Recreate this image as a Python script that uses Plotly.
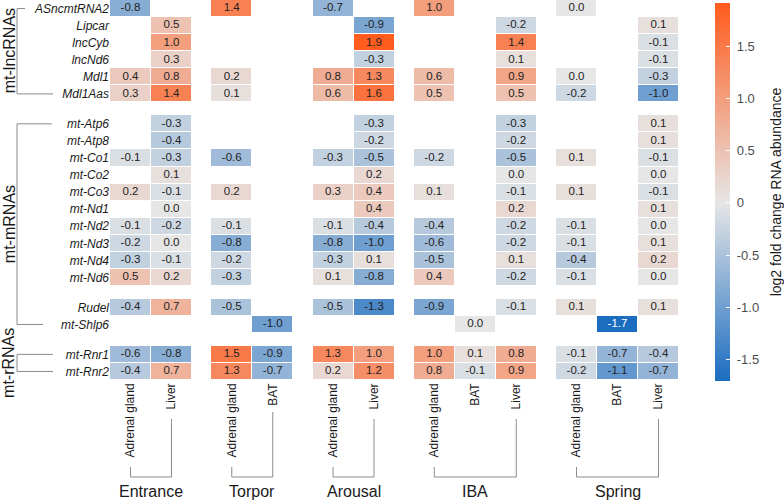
import plotly.graph_objects as go

N = None

# ---------------- data ----------------
genes = ["ASncmtRNA2", "Lipcar", "lncCyb", "lncNd6", "Mdl1", "Mdl1Aas",
         "mt-Atp6", "mt-Atp8", "mt-Co1", "mt-Co2", "mt-Co3", "mt-Nd1", "mt-Nd2",
         "mt-Nd3", "mt-Nd4", "mt-Nd6", "Rudel", "mt-Shlp6", "mt-Rnr1", "mt-Rnr2"]
# block sizes of rows (visual gaps between blocks)
row_blocks = [6, 10, 2, 2]
# bracket groups: (label, first row, last row)
row_groups = [("mt-lncRNAs", 0, 5), ("mt-mRNAs", 6, 17), ("mt-rRNAs", 18, 19)]

stages = ["Entrance", "Torpor", "Arousal", "IBA", "Spring"]
stage_tissues = [["Adrenal gland", "Liver"], ["Adrenal gland", "BAT"],
                 ["Adrenal gland", "Liver"], ["Adrenal gland", "BAT", "Liver"],
                 ["Adrenal gland", "BAT", "Liver"]]

entrance_adrenal = [-0.8, N, N, N, 0.4, 0.3, N, N, -0.1, N, 0.2, N, -0.1, -0.2, -0.3, 0.5, -0.4, N, -0.6, -0.4]
entrance_liver = [N, 0.5, 1.0, 0.3, 0.8, 1.4, -0.3, -0.4, -0.3, 0.1, -0.1, 0.0, -0.2, 0.0, -0.1, 0.2, 0.7, N, -0.8, 0.7]
torpor_adrenal = [1.4, N, N, N, 0.2, 0.1, N, N, -0.6, N, 0.2, N, -0.1, -0.8, -0.2, -0.3, -0.5, N, 1.5, 1.3]
torpor_bat = [N, N, N, N, N, N, N, N, N, N, N, N, N, N, N, N, N, -1.0, -0.9, -0.7]
arousal_adrenal = [-0.7, N, N, N, 0.8, 0.6, N, N, -0.3, N, 0.3, N, -0.1, -0.8, -0.3, 0.1, -0.5, N, 1.3, 0.2]
arousal_liver = [N, -0.9, 1.9, -0.3, 1.3, 1.6, -0.3, -0.2, -0.5, 0.2, 0.4, 0.4, -0.4, -1.0, 0.1, -0.8, -1.3, N, 1.0, 1.2]
iba_adrenal = [1.0, N, N, N, 0.6, 0.5, N, N, -0.2, N, 0.1, N, -0.4, -0.6, -0.5, 0.4, -0.9, N, 1.0, 0.8]
iba_bat = [N, N, N, N, N, N, N, N, N, N, N, N, N, N, N, N, N, 0.0, 0.1, -0.1]
iba_liver = [N, -0.2, 1.4, 0.1, 0.9, 0.5, -0.3, -0.2, -0.5, 0.0, -0.1, 0.2, -0.2, -0.2, 0.1, -0.2, -0.1, N, 0.8, 0.9]
spring_adrenal = [0.0, N, N, N, 0.0, -0.2, N, N, 0.1, N, 0.1, N, -0.1, -0.1, -0.4, -0.1, 0.1, N, -0.1, -0.2]
spring_bat = [N, N, N, N, N, N, N, N, N, N, N, N, N, N, N, N, N, -1.7, -0.7, -1.1]
spring_liver = [N, 0.1, -0.1, -0.1, -0.3, -1.0, 0.1, 0.1, -0.1, 0.0, -0.1, 0.1, 0.0, 0.1, 0.2, 0.0, 0.1, N, -0.4, -0.7]

stage_columns = [[entrance_adrenal, entrance_liver], [torpor_adrenal, torpor_bat],
                 [arousal_adrenal, arousal_liver], [iba_adrenal, iba_bat, iba_liver],
                 [spring_adrenal, spring_bat, spring_liver]]

cbar_ticks = [-1.5, -1.0, -0.5, 0, 0.5, 1.0, 1.5]
cbar_ticktext = ["-1.5", "-1.0", "-0.5", "0", "0.5", "1.0", "1.5"]
cbar_title = "log2 fold change RNA abundance"
zmin, zmax = -1.71, 1.92

# ---------------- style ----------------
FONT = "Liberation Sans, Arial, sans-serif"
COL_GAP = 0.47
ROW_GAP = 0.75
LOW, MID, HIGH = "#1B6CC0", "#E6E6E6", "#FF5B1C"
LINE = "#8c8c8c"
TXT = "#1a1a1a"
W, H = 784, 500
ML, MR, MT, MB = 110, 105, 0, 120
PW, PH = W - ML - MR, H - MT - MB
NB = "\u00a0"


def px_x(px):
    return (px - ML) / PW


def px_y(py):
    return (PH + MT - py) / PH


mid_pos = -zmin / (zmax - zmin)
colorscale = [[0, LOW], [mid_pos, MID], [1, HIGH]]

# ---------------- geometry from data ----------------
row_y = []
y_edges = [-0.5]
z_row_index = []
pos = 0.0
r = 0
for bi, n in enumerate(row_blocks):
    if bi > 0:
        y_edges.append(y_edges[-1] + ROW_GAP)
        z_row_index.append(None)
        pos += ROW_GAP
    for _ in range(n):
        row_y.append(pos)
        y_edges.append(y_edges[-1] + 1)
        z_row_index.append(r)
        pos += 1
        r += 1

col_x = []
col_vals = []
col_names = []
stage_first_last = []
x_edges = [-0.5]
z_cols = []
pos = 0.0
for si, cols in enumerate(stage_columns):
    if si > 0:
        x_edges.append(x_edges[-1] + COL_GAP)
        z_cols.append(None)
        pos += COL_GAP
    first = pos
    for ci, vals in enumerate(cols):
        col_x.append(pos)
        col_vals.append(vals)
        col_names.append(stage_tissues[si][ci])
        x_edges.append(x_edges[-1] + 1)
        z_cols.append(vals)
        pos += 1
    stage_first_last.append((first, pos - 1))

z = []
for ri in z_row_index:
    row = []
    for colv in z_cols:
        if ri is None or colv is None:
            row.append(None)
        else:
            row.append(colv[ri])
    z.append(row)

fig = go.Figure()
fig.add_trace(go.Heatmap(
    x=x_edges, y=y_edges, z=z, zmin=zmin, zmax=zmax,
    colorscale=colorscale, xgap=1, ygap=1, hoverongaps=False,
    colorbar=dict(
        x=px_x(715), xanchor="left", y=px_y(192), yanchor="middle",
        thickness=15, thicknessmode="pixels", len=378, lenmode="pixels",
        xpad=0, ypad=0, outlinewidth=0,
        tickvals=cbar_ticks, ticktext=[NB + t + NB + NB for t in cbar_ticktext],
        ticks="inside", ticklen=4, tickcolor="white", tickwidth=1,
        tickfont=dict(family=FONT, size=13, color="#4d4d4d"),
        title=dict(text=cbar_title, side="right",
                   font=dict(family=FONT, size=14, color=TXT)),
    ),
))

# cell labels
tx, ty, tt, tc = [], [], [], []
for cx, vals in zip(col_x, col_vals):
    for ri, v in enumerate(vals):
        if v is None:
            continue
        tx.append(cx)
        ty.append(row_y[ri])
        tt.append("%.1f" % v)
        tc.append("white" if v <= -1.5 else "#222222")
fig.add_trace(go.Scatter(x=tx, y=ty, text=tt, mode="text",
                         textfont=dict(family=FONT, size=11.5, color=tc),
                         hoverinfo="skip", showlegend=False))

shapes = []
annotations = []

# row group brackets
bracket_x = px_x(17)
arm_ends = {"mt-lncRNAs": (25, 53), "mt-mRNAs": (52, 43), "mt-rRNAs": (53, 53)}
for name, r0, r1 in row_groups:
    y0, y1 = row_y[r0], row_y[r1]
    e0, e1 = arm_ends[name]
    shapes.append(dict(type="line", xref="paper", yref="y", x0=bracket_x, x1=bracket_x,
                       y0=y0, y1=y1, line=dict(color=LINE, width=1)))
    shapes.append(dict(type="line", xref="paper", yref="y", x0=bracket_x, x1=px_x(e0),
                       y0=y0, y1=y0, line=dict(color=LINE, width=1)))
    shapes.append(dict(type="line", xref="paper", yref="y", x0=bracket_x, x1=px_x(e1),
                       y0=y1, y1=y1, line=dict(color=LINE, width=1)))
    annotations.append(dict(text=name, xref="paper", yref="y", x=px_x(9), y=(y0 + y1) / 2,
                            textangle=-90, showarrow=False, xanchor="center", yanchor="middle",
                            font=dict(family=FONT, size=16, color=TXT)))

# stage brackets under tissue labels
label_len = {"Adrenal gland": 78, "Liver": 30, "BAT": 23}
label_top = PH + 5
bar_y = 477
for si, (fx, lx) in enumerate(stage_first_last):
    t_first = stage_tissues[si][0]
    t_last = stage_tissues[si][-1]
    shapes.append(dict(type="line", xref="x", yref="paper", x0=fx, x1=fx,
                       y0=px_y(label_top + label_len[t_first] + 4), y1=px_y(bar_y),
                       line=dict(color=LINE, width=1)))
    shapes.append(dict(type="line", xref="x", yref="paper", x0=lx, x1=lx,
                       y0=px_y(label_top + label_len[t_last] + 4), y1=px_y(bar_y),
                       line=dict(color=LINE, width=1)))
    shapes.append(dict(type="line", xref="x", yref="paper", x0=fx, x1=lx,
                       y0=px_y(bar_y), y1=px_y(bar_y), line=dict(color=LINE, width=1)))
    annotations.append(dict(text=stages[si], xref="x", yref="paper", x=(fx + lx) / 2,
                            y=px_y(491), showarrow=False, xanchor="center", yanchor="middle",
                            font=dict(family=FONT, size=16, color=TXT)))

fig.update_layout(
    width=W, height=H, margin=dict(l=ML, r=MR, t=MT, b=MB),
    paper_bgcolor="white", plot_bgcolor="white",
    font=dict(family=FONT, color=TXT),
    shapes=shapes, annotations=annotations, showlegend=False,
    xaxis=dict(range=[x_edges[0], x_edges[-1]], tickvals=col_x, ticktext=col_names,
               tickangle=-90, showgrid=False, zeroline=False, showline=False, ticks="",
               tickfont=dict(family=FONT, size=12, color=TXT)),
    yaxis=dict(range=[y_edges[-1], y_edges[0]], tickvals=row_y,
               ticktext=["<i>%s</i>" % g for g in genes],
               showgrid=False, zeroline=False, showline=False, ticks="",
               tickfont=dict(family=FONT, size=12, color=TXT)),
)

fig.write_html("out.html")
